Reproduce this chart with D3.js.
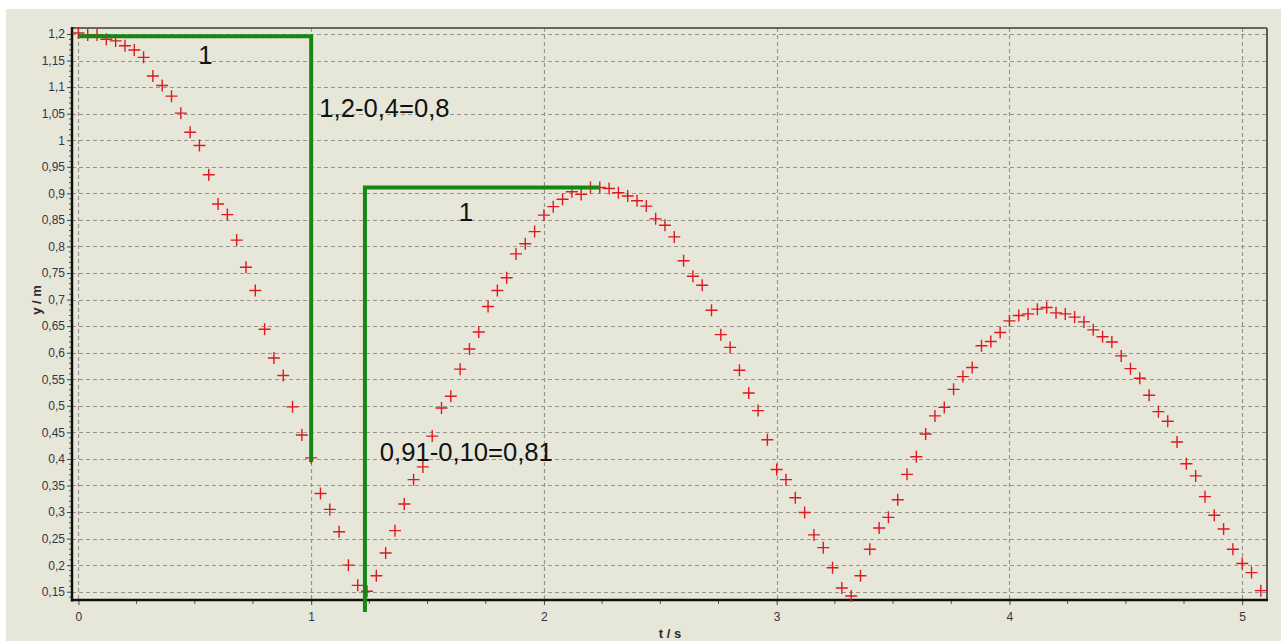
<!DOCTYPE html>
<html>
<head>
<meta charset="utf-8">
<script src="https://cdn.jsdelivr.net/npm/d3@7"></script>
<style>
  body { margin: 0; background: #ffffff; }
  svg { display: block; font-family: "Liberation Sans", Arial, sans-serif; }
</style>
</head>
<body>
<div id="container"></div>
<script>
var tValues = [
  0.00, 0.04, 0.08, 0.12, 0.16, 0.20, 0.24, 0.28, 0.32, 0.36,
  0.40, 0.44, 0.48, 0.52, 0.56, 0.60, 0.64, 0.68, 0.72, 0.76,
  0.80, 0.84, 0.88, 0.92, 0.96, 1.00, 1.04, 1.08, 1.12, 1.16,
  1.20, 1.24, 1.28, 1.32, 1.36, 1.40, 1.44, 1.48, 1.52, 1.56,
  1.60, 1.64, 1.68, 1.72, 1.76, 1.80, 1.84, 1.88, 1.92, 1.96,
  2.00, 2.04, 2.08, 2.12, 2.16, 2.20, 2.24, 2.28, 2.32, 2.36,
  2.40, 2.44, 2.48, 2.52, 2.56, 2.60, 2.64, 2.68, 2.72, 2.76,
  2.80, 2.84, 2.88, 2.92, 2.96, 3.00, 3.04, 3.08, 3.12, 3.16,
  3.20, 3.24, 3.28, 3.32, 3.36, 3.40, 3.44, 3.48, 3.52, 3.56,
  3.60, 3.64, 3.68, 3.72, 3.76, 3.80, 3.84, 3.88, 3.92, 3.96,
  4.00, 4.04, 4.08, 4.12, 4.16, 4.20, 4.24, 4.28, 4.32, 4.36,
  4.40, 4.44, 4.48, 4.52, 4.56, 4.60, 4.64, 4.68, 4.72, 4.76,
  4.80, 4.84, 4.88, 4.92, 4.96, 5.00, 5.04, 5.08
];
var yValues = [
  1.202, 1.198, 1.198, 1.190, 1.187, 1.178, 1.170, 1.156, 1.121, 1.103,
  1.083, 1.051, 1.015, 0.990, 0.935, 0.880, 0.860, 0.812, 0.761, 0.717,
  0.644, 0.590, 0.557, 0.498, 0.445, 0.402, 0.335, 0.305, 0.263, 0.200,
  0.162, 0.151, 0.180, 0.223, 0.265, 0.315, 0.361, 0.385, 0.443, 0.496,
  0.518, 0.569, 0.607, 0.639, 0.687, 0.717, 0.741, 0.786, 0.805, 0.828,
  0.859, 0.875, 0.889, 0.903, 0.898, 0.911, 0.911, 0.909, 0.901, 0.895,
  0.886, 0.876, 0.852, 0.840, 0.818, 0.773, 0.744, 0.727, 0.680, 0.634,
  0.610, 0.567, 0.524, 0.491, 0.436, 0.380, 0.361, 0.327, 0.299, 0.257,
  0.233, 0.195, 0.157, 0.142, 0.180, 0.230, 0.270, 0.290, 0.323, 0.371,
  0.404, 0.447, 0.481, 0.497, 0.531, 0.555, 0.572, 0.613, 0.621, 0.638,
  0.660, 0.670, 0.673, 0.682, 0.685, 0.675, 0.673, 0.667, 0.658, 0.643,
  0.630, 0.620, 0.594, 0.570, 0.552, 0.520, 0.489, 0.471, 0.432, 0.391,
  0.368, 0.329, 0.294, 0.268, 0.230, 0.203, 0.186, 0.152
];

var xTicks = [0, 1, 2, 3, 4, 5];
var xMinorTicks = [0.25, 0.5, 0.75, 1.25, 1.5, 1.75, 2.25, 2.5, 2.75, 3.25, 3.5, 3.75, 4.25, 4.5, 4.75];
var yTicks = [0.15, 0.2, 0.25, 0.3, 0.35, 0.4, 0.45, 0.5, 0.55, 0.6, 0.65, 0.7, 0.75,
              0.8, 0.85, 0.9, 0.95, 1, 1.05, 1.1, 1.15, 1.2];

// green step annotations (data coordinates)
var step1 = [[0, 1.196], [1, 1.196], [1, 0.394]];
var step2 = [[1.231, 0.112], [1.231, 0.911], [2.237, 0.911]];
var noteTexts = ["1", "1,2-0,4=0,8", "1", "0,91-0,10=0,81"];
var noteT = [0.545, 1.035, 1.665, 1.295];
var noteY = [1.16, 1.062, 0.865, 0.413];
var noteAnchor = ["middle", "start", "middle", "start"];

var W = 1281, H = 641;
var padL = 72, padR = 1267, padT = 28, padB = 600;

var svg = d3.select("#container").append("svg")
  .attr("width", W).attr("height", H);

svg.append("rect")
  .attr("x", 6).attr("y", 9)
  .attr("width", W - 6).attr("height", H - 9)
  .attr("fill", "#e7e7d9");

var xScale = d3.scaleLinear().domain([-0.0275, 5.1065]).range([padL, padR]);
var yScale = d3.scaleLinear().domain([0.1344, 1.2113]).range([padB, padT]);

var fmt = function (d) { return String(+d.toFixed(2)).replace(".", ","); };

// grid
var grid = svg.append("g").attr("class", "grid");
grid.selectAll("line.h").data(yTicks).enter().append("line")
  .attr("x1", padL).attr("x2", padR)
  .attr("y1", d => Math.round(yScale(d)) + 0.5)
  .attr("y2", d => Math.round(yScale(d)) + 0.5)
  .attr("stroke", "#96968f").attr("stroke-width", 1.2)
  .attr("stroke-dasharray", "4,3");
grid.selectAll("line.v").data(xTicks).enter().append("line")
  .attr("y1", padT).attr("y2", padB)
  .attr("x1", d => Math.round(xScale(d)) + 0.5)
  .attr("x2", d => Math.round(xScale(d)) + 0.5)
  .attr("stroke", "#96968f").attr("stroke-width", 1.2)
  .attr("stroke-dasharray", "4,3");

// frame top / right
svg.append("line").attr("x1", padL).attr("x2", padR).attr("y1", padT).attr("y2", padT)
  .attr("stroke", "#3c3c3c").attr("stroke-width", 1.5);
svg.append("line").attr("x1", padR).attr("x2", padR).attr("y1", padT).attr("y2", padB)
  .attr("stroke", "#5a5a55").attr("stroke-width", 2);

// axes
var yAxis = d3.axisLeft(yScale).tickValues(yTicks).tickFormat(fmt).tickSize(5).tickPadding(2);
var yAxisG = svg.append("g").attr("transform", "translate(" + padL + ",0)").call(yAxis);
yAxisG.select(".domain").remove();

var yMinor = d3.range(14, 121).map(d => d / 100).filter(d => Math.round(d * 100) % 5 !== 0);
svg.append("g").selectAll("line").data(yMinor).enter().append("line")
  .attr("x1", padL - 3).attr("x2", padL)
  .attr("y1", d => yScale(d)).attr("y2", d => yScale(d))
  .attr("stroke", "#555").attr("stroke-width", 1);

var xAxis = d3.axisBottom(xScale).tickValues(xTicks).tickFormat(d => d).tickSize(5).tickPadding(7);
var xAxisG = svg.append("g").attr("transform", "translate(0," + padB + ")").call(xAxis);
xAxisG.select(".domain").remove();
svg.append("g").selectAll("line").data(xMinorTicks).enter().append("line")
  .attr("x1", d => xScale(d)).attr("x2", d => xScale(d))
  .attr("y1", padB).attr("y2", padB + 4)
  .attr("stroke", "#555").attr("stroke-width", 1);

[yAxisG, xAxisG].forEach(function (g) {
  g.selectAll("text").attr("fill", "#34344a").style("font-size", "12px")
    .style("font-family", "'Liberation Sans', Arial, sans-serif");
  g.selectAll("line").attr("stroke", "#444");
});

svg.append("line").attr("x1", padL).attr("x2", padL).attr("y1", padT - 1).attr("y2", padB + 1.5)
  .attr("stroke", "#111").attr("stroke-width", 2.5);
svg.append("line").attr("x1", padL - 1).attr("x2", padR + 1).attr("y1", padB).attr("y2", padB)
  .attr("stroke", "#111").attr("stroke-width", 2.5);

// axis titles
svg.append("text")
  .attr("transform", "translate(41," + 300 + ") rotate(-90)")
  .attr("text-anchor", "middle")
  .style("font-size", "13px").style("font-weight", "bold").attr("fill", "#2a2a35")
  .text("y / m");
svg.append("text")
  .attr("x", 670).attr("y", 638)
  .attr("text-anchor", "middle")
  .style("font-size", "13px").style("font-weight", "bold").attr("fill", "#2a2a35")
  .text("t / s");

// data markers (+)
var pts = tValues.map((t, i) => ({ t: t, y: yValues[i] }));
var marks = svg.append("g").attr("class", "marks");
marks.selectAll("path").data(pts).enter().append("path")
  .attr("d", function (d) {
    var x = xScale(d.t), y = yScale(d.y);
    return "M" + (x - 6) + "," + y + "H" + (x + 6) + "M" + x + "," + (y - 6) + "V" + (y + 6);
  })
  .attr("stroke", "#e01820").attr("stroke-width", 1.4).attr("fill", "none");

// green annotations
var line = d3.line().x(d => xScale(d[0])).y(d => yScale(d[1]));
[step1, step2].forEach(function (s) {
  svg.append("path").attr("d", line(s))
    .attr("fill", "none").attr("stroke", "#138813").attr("stroke-width", 4)
    .attr("stroke-linejoin", "miter");
});

svg.append("g").selectAll("text").data(noteTexts).enter().append("text")
  .attr("x", (d, i) => xScale(noteT[i]))
  .attr("y", (d, i) => yScale(noteY[i]))
  .attr("dy", "0.36em")
  .attr("text-anchor", (d, i) => noteAnchor[i])
  .style("font-size", "25.6px")
  .attr("fill", "#111")
  .text(d => d);
</script>
</body>
</html>
